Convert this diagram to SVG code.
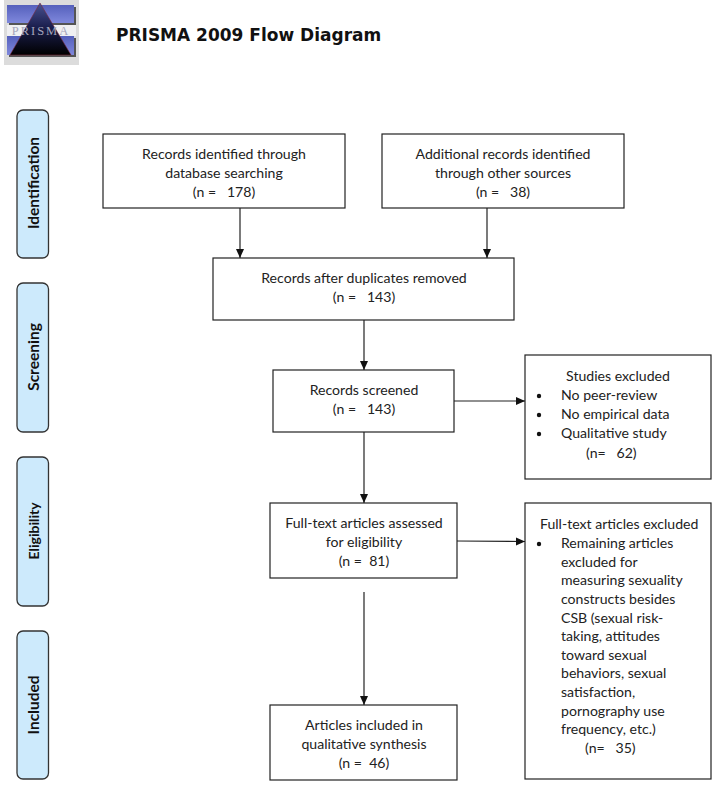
<svg xmlns="http://www.w3.org/2000/svg" width="720" height="786" viewBox="0 0 720 786">
<style>
text{font-family:Lato,"Open Sans",sans-serif;font-size:14.1px;fill:#222}
.c{text-anchor:middle}
.box{fill:#fff;stroke:#222;stroke-width:1.2}
.ph{fill:#cdeafc;stroke:#333;stroke-width:1.3}
.pt{font-size:15.5px;font-weight:700;text-anchor:middle;fill:#111}
.con{fill:none;stroke:#222;stroke-width:1.2}
</style>
<defs>
<marker id="a" markerUnits="userSpaceOnUse" markerWidth="10" markerHeight="10" refX="9" refY="5" orient="auto"><path d="M0 1L9 5L0 9Z" fill="#111"/></marker>
<linearGradient id="tri" x1="0" y1="0" x2="0" y2="1"><stop offset="0" stop-color="#4a5290"/><stop offset=".45" stop-color="#1c2050"/><stop offset="1" stop-color="#000"/></linearGradient>
<linearGradient id="bar" x1="0" y1="0" x2="0" y2="1"><stop offset="0" stop-color="#5560bc"/><stop offset="1" stop-color="#7f88dc"/></linearGradient>
</defs>
<rect width="720" height="786" fill="#fff"/>
<g id="logo">
<rect x="4" y="0" width="75" height="65" fill="#dcdcdc"/>
<rect x="9" y="7" width="67" height="18" fill="#555"/>
<rect x="9" y="38" width="67" height="19" fill="#555"/>
<rect x="7" y="5" width="67" height="18" fill="url(#bar)"/>
<rect x="7" y="25" width="69" height="11" fill="#f0f0f2"/>
<rect x="7" y="36" width="67" height="19" fill="url(#bar)"/>
<path d="M40 3L71 55H10Z" fill="url(#tri)" stroke="#7a2a3a" stroke-width=".6"/>
<text x="41" y="35" class="c" style="font-family:'Liberation Serif',serif;font-size:12.5px;letter-spacing:2px;fill:#a6a6bc">PRISMA</text>
</g>
<text id="title" x="116" y="40.500" style="font-family:'DejaVu Sans',sans-serif;font-size:17px;font-weight:700;fill:#111">PRISMA 2009 Flow Diagram</text>
<g id="connectors" class="con">
<path class="con" d="M240 208V258" marker-end="url(#a)"/>
<path class="con" d="M487 208V258" marker-end="url(#a)"/>
<path class="con" d="M364 320V370" marker-end="url(#a)"/>
<path class="con" d="M454 401H525" marker-end="url(#a)"/>
<path class="con" d="M364 432V503" marker-end="url(#a)"/>
<path class="con" d="M457 541L525 541.500" marker-end="url(#a)"/>
<path class="con" d="M364 592V705" marker-end="url(#a)"/>
</g>
<g id="phase-identification"><rect class="ph" x="17" y="110" width="31.500" height="148" rx="6"/><text class="pt" transform="translate(39 183) rotate(-90)">Identification</text></g>
<g id="phase-screening"><rect class="ph" x="17" y="283" width="31.500" height="149" rx="6"/><text class="pt" transform="translate(39 357) rotate(-90)">Screening</text></g>
<g id="phase-eligibility"><rect class="ph" x="17" y="457" width="31.500" height="149" rx="6"/><text class="pt" transform="translate(38.500 531) rotate(-90)" style="font-size:14px">Eligibility</text></g>
<g id="phase-included"><rect class="ph" x="17" y="631" width="31.500" height="148" rx="6"/><text class="pt" transform="translate(39 705) rotate(-90)">Included</text></g>
<g id="node-database"><rect class="box" x="103" y="134" width="242" height="74"/><text class="c" x="224" y="159">Records identified through</text><text class="c" x="224" y="178">database searching</text><text class="c" x="224" y="197" xml:space="preserve">(n =   178)</text></g>
<g id="node-other"><rect class="box" x="382" y="134" width="242" height="74"/><text class="c" x="503" y="159">Additional records identified</text><text class="c" x="503" y="178">through other sources</text><text class="c" x="503" y="197" xml:space="preserve">(n =   38)</text></g>
<g id="node-duplicates"><rect class="box" x="213" y="258" width="301" height="62"/><text class="c" x="364" y="283">Records after duplicates removed</text><text class="c" x="364" y="302" xml:space="preserve">(n =   143)</text></g>
<g id="node-screened"><rect class="box" x="273" y="370" width="181" height="62"/><text class="c" x="364" y="395">Records screened</text><text class="c" x="364" y="414" xml:space="preserve">(n =   143)</text></g>
<g id="node-studies-excluded"><rect class="box" x="525" y="355" width="186" height="124"/>
<text class="c" x="618" y="381">Studies excluded</text>
<circle cx="539" cy="396" r="2.200" fill="#111"/><text x="561" y="400">No peer-review</text>
<circle cx="539" cy="415" r="2.200" fill="#111"/><text x="561" y="419">No empirical data</text>
<circle cx="539" cy="434" r="2.200" fill="#111"/><text x="561" y="438">Qualitative study</text>
<text x="586" y="458" xml:space="preserve">(n=   62)</text></g>
<g id="node-fulltext"><rect class="box" x="270" y="503" width="187" height="75"/><text class="c" x="364" y="528">Full-text articles assessed</text><text class="c" x="364" y="547">for eligibility</text><text class="c" x="364" y="566" xml:space="preserve">(n =  81)</text></g>
<g id="node-fulltext-excluded"><rect class="box" x="525" y="503" width="186" height="276"/>
<text x="540" y="529">Full-text articles excluded</text>
<circle cx="539" cy="544" r="2.200" fill="#111"/>
<text x="561" y="548">Remaining articles</text>
<text x="561" y="567">excluded for</text>
<text x="561" y="585">measuring sexuality</text>
<text x="561" y="604">constructs besides</text>
<text x="561" y="623">CSB (sexual risk-</text>
<text x="561" y="641">taking, attitudes</text>
<text x="561" y="660">toward sexual</text>
<text x="561" y="678">behaviors, sexual</text>
<text x="561" y="697">satisfaction,</text>
<text x="561" y="716">pornography use</text>
<text x="561" y="734">frequency, etc.)</text>
<text x="585" y="753" xml:space="preserve">(n=   35)</text></g>
<g id="node-included"><rect class="box" x="270" y="705" width="187" height="75"/><text class="c" x="364" y="730">Articles included in</text><text class="c" x="364" y="749">qualitative synthesis</text><text class="c" x="364" y="768" xml:space="preserve">(n =  46)</text></g>
</svg>
